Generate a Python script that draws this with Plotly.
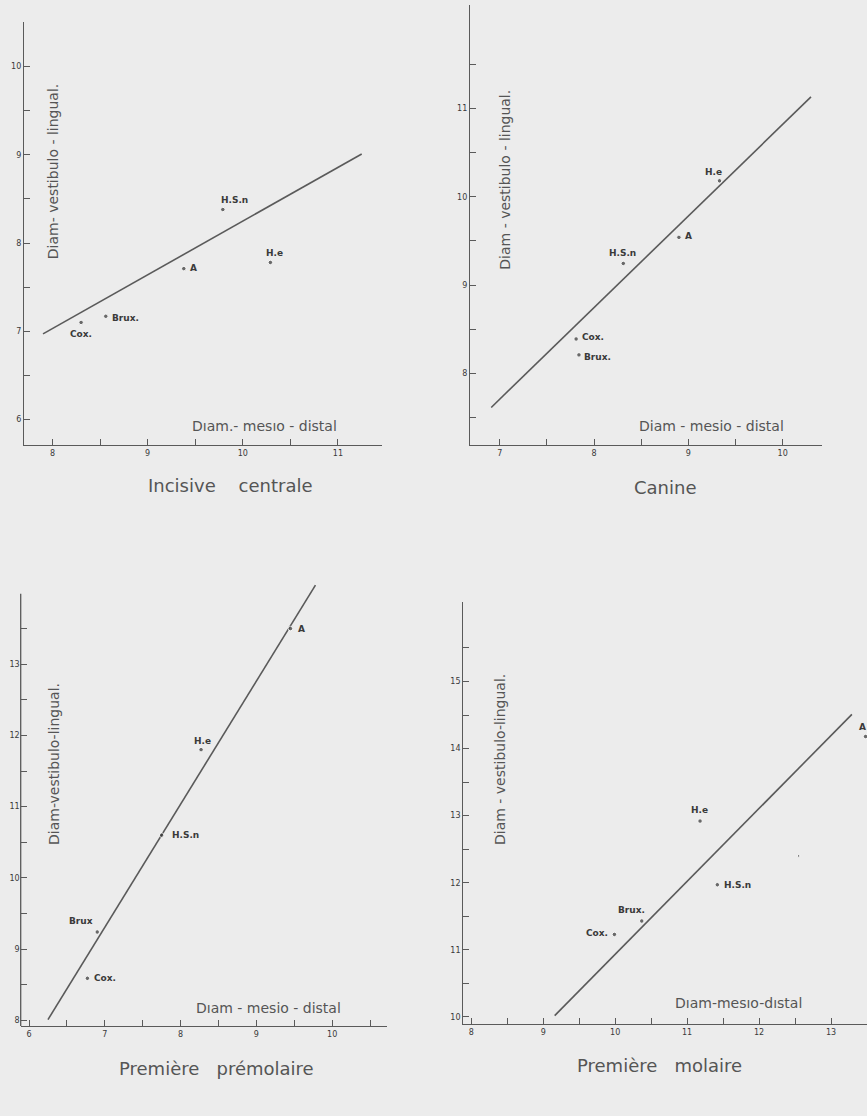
import plotly.graph_objects as go

W, H = 867, 1116

# ---------------- data ----------------
# Panel 1: Incisive centrale
inc_labels = ["Cox.", "Brux.", "A", "H.S.n", "H.e"]
inc_x = [8.30, 8.56, 9.38, 9.79, 10.29]
inc_y = [7.10, 7.17, 7.71, 8.38, 7.78]
inc_line_x = [7.90, 11.25]
inc_line_y = [6.97, 9.01]
inc_xticks = [8, 9, 10, 11]
inc_yticks = [6, 7, 8, 9, 10]

# Panel 2: Canine
can_labels = ["H.e", "A", "H.S.n", "Cox.", "Brux."]
can_x = [9.33, 8.90, 8.31, 7.81, 7.84]
can_y = [10.18, 9.54, 9.245, 8.39, 8.21]
can_line_x = [6.91, 10.30]
can_line_y = [7.615, 11.13]
can_xticks = [7, 8, 9, 10]
can_yticks = [8, 9, 10, 11]

# Panel 3: Premiere premolaire
pm_labels = ["A", "H.e", "H.S.n", "Brux", "Cox."]
pm_x = [9.45, 8.27, 7.75, 6.90, 6.77]
pm_y = [13.50, 11.80, 10.60, 9.24, 8.59]
pm_line_x = [6.25, 9.78]
pm_line_y = [8.01, 14.11]
pm_xticks = [6, 7, 8, 9, 10]
pm_yticks = [8, 9, 10, 11, 12, 13]

# Panel 4: Premiere molaire
mo_labels = ["A", "H.e", "H.S.n", "Brux.", "Cox.", ""]
mo_x = [13.48, 11.18, 11.42, 10.37, 9.99, 12.55]
mo_y = [14.18, 12.92, 11.97, 11.43, 11.23, 12.40]
mo_line_x = [9.16, 13.29]
mo_line_y = [10.02, 14.51]
mo_xticks = [8, 9, 10, 11, 12, 13]
mo_yticks = [10, 11, 12, 13, 14, 15]

titles = ["Incisive    centrale", "Canine", "Première   prémolaire", "Première   molaire"]
xlabels = ["Dıam.- mesıo - distal", "Diam - mesio - distal", "Dıam - mesio - distal", "Dıam-mesıo-dıstal"]
ylabels = ["Diam- vestibulo - lingual.", "Diam - vestibulo - lingual.",
           "Diam-vestibulo-lingual.", "Diam - vestibulo-lingual."]

# ---------------- layout helpers ----------------
BG = "#ececec"
LINE = "#5a5a5a"
FONT = "DejaVu Sans, Liberation Sans, Arial, sans-serif"

def px2x(p):
    return p / W

def px2y(p):
    return 1 - p / H

def halves(ticks, lo, hi):
    vals = [t + 0.5 for t in ticks] + [ticks[0] - 0.5]
    return sorted(v for v in vals if lo < v < hi)

fig = go.Figure()

panels = [
    dict(x=inc_x, y=inc_y, lab=inc_labels, lx=inc_line_x, ly=inc_line_y, xt=inc_xticks, yt=inc_yticks,
         xd=(24, 381.7), yd=(445, 21.7), xr=[7.70, 11.46], yr=[5.71, 10.51],
         off=[("center", 0, -12), ("left", 4, -2), ("left", 4, 1), ("left", -4, 10), ("left", -6, 9)]),
    dict(x=can_x, y=can_y, lab=can_labels, lx=can_line_x, ly=can_line_y, xt=can_xticks, yt=can_yticks,
         xd=(470, 822.3), yd=(445, 5), xr=[6.685, 10.42], yr=[7.19, 12.17],
         off=[("left", -16, 9), ("left", 4, 1), ("left", -16, 10), ("left", 4, 2), ("left", 3, -2)]),
    dict(x=pm_x, y=pm_y, lab=pm_labels, lx=pm_line_x, ly=pm_line_y, xt=pm_xticks, yt=pm_yticks,
         xd=(20.7, 386.7), yd=(1026, 583), xr=[5.89, 10.72], yr=[7.92, 14.14],
         off=[("left", 6, 0), ("left", -9, 9), ("left", 8, 0), ("right", -2, 11), ("left", 5, 0)]),
    dict(x=mo_x, y=mo_y, lab=mo_labels, lx=mo_line_x, ly=mo_line_y, xt=mo_xticks, yt=mo_yticks,
         xd=(463.3, 867), yd=(1024.3, 601.7), xr=[7.89, 13.5], yr=[9.89, 16.19],
         off=[("right", 2, 10), ("left", -11, 11), ("left", 5, 0), ("right", 5, 11), ("right", -4, 1), None]),
]

text_pos = [
    ((231, 485), (264, 425.7), (52.5, 171.7)),
    ((665.7, 487), (711, 426), (504.7, 180)),
    ((216, 1068.3), (268.7, 1007.7), (54, 764)),
    ((659.3, 1065), (738.7, 1003.3), (500, 760)),
]

annotations = []
shapes = []
for i, p in enumerate(panels):
    n = i + 1
    xa = "x" if n == 1 else f"x{n}"
    ya = "y" if n == 1 else f"y{n}"
    fig.add_trace(go.Scatter(x=p["lx"], y=p["ly"], mode="lines", xaxis=xa, yaxis=ya,
                             line=dict(color=LINE, width=1.6), showlegend=False, hoverinfo="skip"))
    sizes = [2.5 if l == "" else 4.5 for l in p["lab"]]
    fig.add_trace(go.Scatter(x=p["x"], y=p["y"], mode="markers", xaxis=xa, yaxis=ya,
                             marker=dict(color="#333333", size=sizes), cliponaxis=False,
                             showlegend=False, text=p["lab"]))
    for j, lab in enumerate(p["lab"]):
        if not lab:
            continue
        anc, xs, ys = p["off"][j]
        annotations.append(dict(x=p["x"][j], y=p["y"][j], xref=xa, yref=ya, text=f"<b>{lab}</b>",
                                showarrow=False, xanchor=anc, yanchor="middle", xshift=xs, yshift=ys,
                                font=dict(family=FONT, size=9, color="#3a3a3a")))
    axis_common = dict(showgrid=False, zeroline=False, showline=True, linecolor=LINE, linewidth=1.3,
                       ticks="inside", ticklen=6, tickwidth=1.1, tickcolor=LINE,
                       tickfont=dict(family=FONT, size=8, color="#3a3a3a"))
    xkey = "xaxis" if n == 1 else f"xaxis{n}"
    ykey = "yaxis" if n == 1 else f"yaxis{n}"
    fig.update_layout({
        xkey: dict(axis_common, domain=[px2x(p["xd"][0]), px2x(p["xd"][1])], range=p["xr"],
                   anchor=ya, tickmode="array", tickvals=p["xt"],
                   minor=dict(tickmode="array", tickvals=halves(p["xt"], p["xr"][0], p["xr"][1]),
                              ticks="inside", ticklen=6, tickwidth=1.1, tickcolor=LINE)),
        ykey: dict(axis_common, domain=[px2y(p["yd"][0]), px2y(p["yd"][1])], range=p["yr"],
                   anchor=xa, tickmode="array", tickvals=p["yt"],
                   minor=dict(tickmode="array", tickvals=halves(p["yt"], p["yr"][0], p["yr"][1] - 0.1),
                              ticks="inside", ticklen=6, tickwidth=1.1, tickcolor=LINE)),
    })
    (tcx, tcy), (xcx, xcy), (ycx, ycy) = text_pos[i]
    annotations.append(dict(x=px2x(tcx), y=px2y(tcy), xref="paper", yref="paper", text=titles[i],
                            showarrow=False, xanchor="center", yanchor="middle",
                            font=dict(family=FONT, size=18, color="#555555")))
    annotations.append(dict(x=px2x(xcx), y=px2y(xcy), xref="paper", yref="paper", text=xlabels[i],
                            showarrow=False, xanchor="center", yanchor="middle",
                            font=dict(family=FONT, size=14, color="#555555")))
    annotations.append(dict(x=px2x(ycx), y=px2y(ycy), xref="paper", yref="paper", text=ylabels[i],
                            showarrow=False, xanchor="center", yanchor="middle", textangle=-90,
                            font=dict(family=FONT, size=14, color="#555555")))

# Panel 3: y-axis line stops below the top of the regression line
fig.update_layout(yaxis3=dict(showline=False))
shapes.append(dict(type="line", xref="x3 domain", yref="y3", x0=0, x1=0, y0=7.92, y1=13.99,
                   line=dict(color=LINE, width=1.3)))

fig.update_layout(width=W, height=H, margin=dict(l=0, r=0, t=0, b=0),
                  paper_bgcolor=BG, plot_bgcolor=BG, annotations=annotations, shapes=shapes,
                  showlegend=False)

fig.write_html("out.html", config={"displayModeBar": False},
               post_script="document.body.style.margin='0';document.body.style.padding='0';"
                           "document.body.style.background='#ececec';")
